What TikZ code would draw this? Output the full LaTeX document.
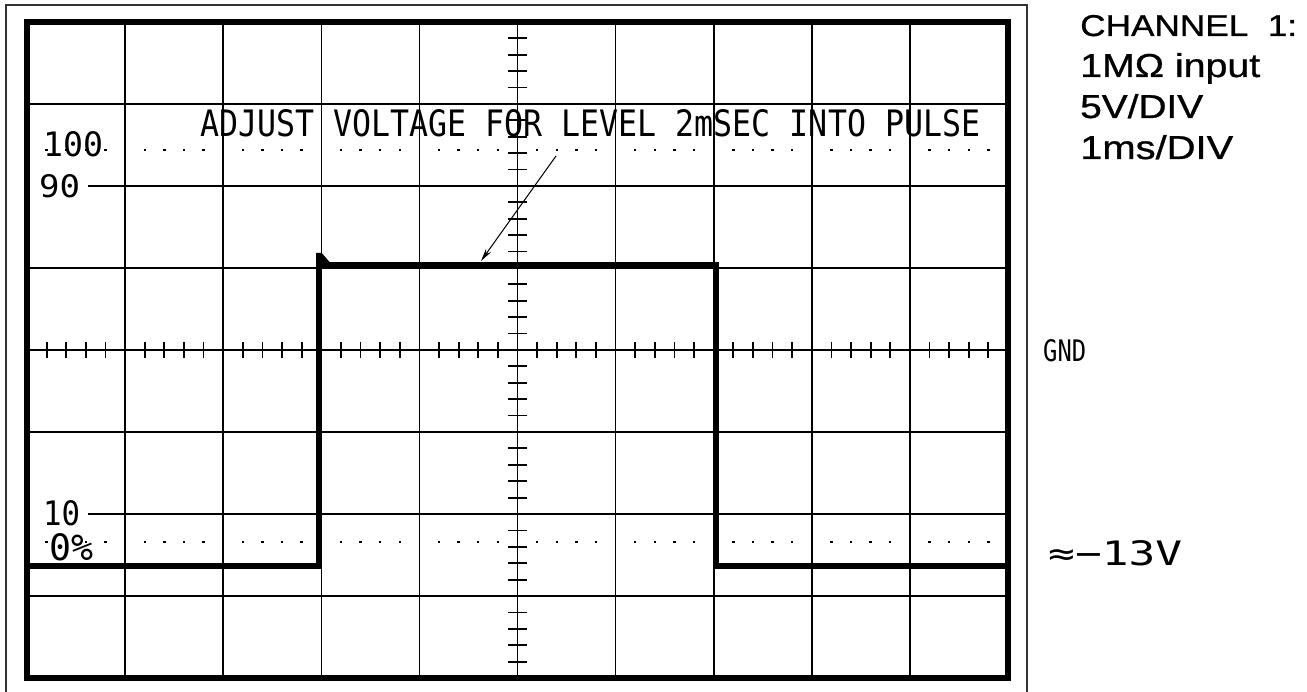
\documentclass[tikz,border=0pt]{standalone}
\usepackage{fontspec}
\setmainfont{Liberation Sans}
\newfontfamily\cadfont{DejaVu Sans Mono}
\newfontfamily\chfont{Liberation Sans}[FakeBold=0.8]
\usetikzlibrary{arrows.meta}
\newcommand{\fitbox}[3]{\resizebox{#1pt}{#2pt}{#3}}
\begin{document}
\begin{tikzpicture}[x=1pt,y=-1pt,
  gridline/.style={line width=1.6pt},
  border/.style={line width=6.5pt},
  pulse/.style={line width=5.5pt, line join=miter},
  tickline/.style={line width=1.8pt},
  lbl/.style={inner sep=0pt, anchor=base west},
  cad/.style={lbl, font=\cadfont},
  chan/.style={lbl, font=\chfont},
  framethin/.style={line width=1.3pt, draw=black!80}]
\useasboundingbox (0,0) rectangle (1307,692);
\fill[white] (0,0) rectangle (1307,692);
% outer thin frame
\draw[framethin] (6,696) -- (6,5) -- (1027,5) -- (1027,696);
% grid columns
\foreach \i in {1,...,9} \draw[gridline] ({27+98.1*\i},22) -- ({27+98.1*\i},678);
% grid rows
\foreach \j in {1,3,4,5,7} \draw[gridline] (27,{22+82*\j}) -- (1008,{22+82*\j});
\foreach \j in {2,6} \draw[gridline] (88,{22+82*\j}) -- (1008,{22+82*\j});
% ticks on the horizontal axis, and the dotted 100 / 0% levels
\foreach \k in {1,...,49} {
  \pgfmathtruncatemacro\r{mod(\k,5)}
  \ifnum\r=0 \else
    \draw[tickline] ({27+19.62*\k},342) -- ({27+19.62*\k},358);
    \fill ({27+19.62*\k-1.2},148.8) rectangle ++(2.4,2.4);
    \fill ({27+19.62*\k-1.2},540.8) rectangle ++(2.4,2.4);
  \fi
}
% ticks on the vertical axis
\foreach \k in {1,...,39} {
  \pgfmathtruncatemacro\r{mod(\k,5)}
  \ifnum\r=0 \else
    \draw[tickline] (508,{22+16.4*\k}) -- (527,{22+16.4*\k});
  \fi
}
% pulse
\draw[pulse] (30,566) -- (319,566) -- (319,265) -- (716,265) -- (716,566) -- (1005,566);
\fill (316.2,253) -- (321.8,253) -- (330,262.5) -- (316.2,262.5) -- cycle;
% screen border
\draw[border] (27,22) rectangle (1008,678);
% labels
\node[cad] (adj) at (200,137) {\fitbox{780}{27}{ADJUST VOLTAGE FOR LEVEL 2mSEC INTO PULSE}};
\node[cad] (l100) at (43,157) {\fitbox{60}{25}{100}};
\node[cad] (l90) at (39,198) {\fitbox{41}{23}{90}};
\node[cad] (l10) at (43,525) {\fitbox{37}{25}{10}};
\node[cad] (l0) at (49,560) {\fitbox{44}{27}{0\%}};
\node[cad] (gnd) at (1043,362) {\fitbox{43}{22}{GND}};
\node[cad] (m13) at (1048,565) {\fitbox{134}{25}{≈−13V}};
\node[chan] (ch) at (1080,36) {\fitbox{217}{21}{CHANNEL\ \ 1:}};
\node[chan] (inp) at (1080,77) {\fitbox{180}{24}{1MΩ input}};
\node[chan] (vdiv) at (1080,118) {\fitbox{123}{24}{5V/DIV}};
\node[chan] (msdiv) at (1080,159) {\fitbox{153}{24}{1ms/DIV}};
% arrow
\coordinate (arrS) at (556,156);
\coordinate (arrE) at (481,261);
\draw[line width=1pt, -{Stealth[length=13pt,width=6pt]}] (arrS) -- (arrE);
\end{tikzpicture}
\end{document}
